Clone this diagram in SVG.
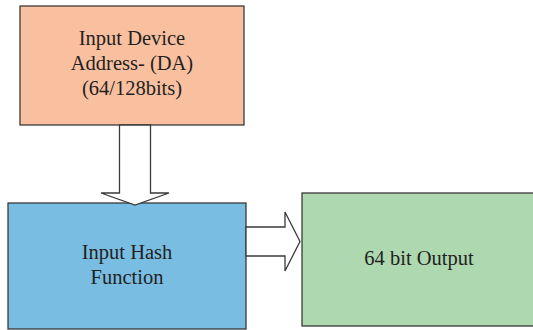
<svg xmlns="http://www.w3.org/2000/svg" width="533" height="330" viewBox="0 0 533 330">
<style>
.box{stroke:#3a3a3a;stroke-width:1.3}
.t{font-family:"Liberation Serif","Times New Roman",serif;font-size:20.5px;fill:#231f20;text-anchor:middle}
.arr{fill:#ffffff;stroke:#3a3a3a;stroke-width:1.3;stroke-linejoin:miter}
</style>
<rect width="533" height="330" fill="#ffffff"/>
<g id="node-da">
<rect class="box" x="20" y="6" width="224" height="119" fill="#f9c0a0"/>
<text class="t" x="132" y="45">Input Device</text>
<text class="t" x="132" y="70">Address- (DA)</text>
<text class="t" x="132" y="95">(64/128bits)</text>
</g>
<g id="node-hash">
<rect class="box" x="8" y="203" width="238" height="126" fill="#79bde3"/>
<text class="t" x="127" y="259">Input Hash</text>
<text class="t" x="127" y="284">Function</text>
</g>
<g id="node-out">
<rect class="box" x="302" y="193" width="234" height="133" fill="#aed8b0"/>
<text class="t" x="419" y="265">64 bit Output</text>
</g>
<g id="connectors">
<polygon class="arr" points="119.5,125 150.5,125 150.5,193 169,193 135,205 101,193 119.5,193"/>
<polygon class="arr" points="246,227 285,227 285,212 300,241.5 285,271 285,256 246,256"/>
</g>
</svg>
